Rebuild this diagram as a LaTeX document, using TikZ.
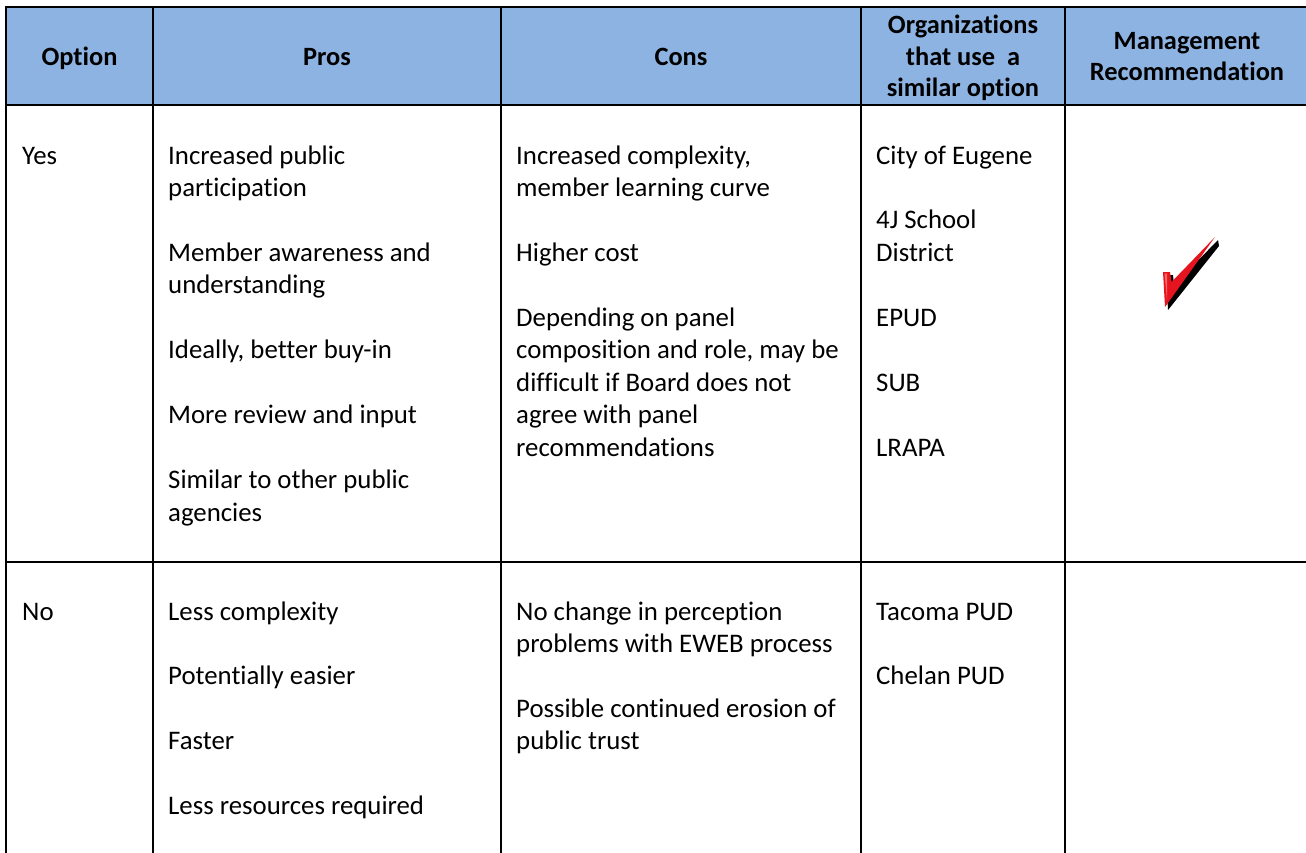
\documentclass[tikz,border=0pt]{standalone}
\usepackage{fontspec}
\setmainfont[Ligatures=NoCommon]{Carlito}
\definecolor{hdrblue}{RGB}{141,179,226}
\definecolor{chkred}{RGB}{230,20,30}
\newcommand\tl[4]{\node[txt] (#1) at (#2,#3) {#4};}
\newcommand\hl[4]{\node[hdtxt] (#1) at (#2,#3) {#4};}
\begin{document}
\begin{tikzpicture}[x=1pt,y=-1pt,
  rule/.style={line width=2.2pt,line cap=rect},
  txt/.style={font=\fontsize{26.8}{31}\selectfont,inner sep=0pt,anchor=base west},
  hdtxt/.style={font=\fontsize{26.4}{31}\selectfont\bfseries,inner sep=0pt,anchor=base}]
\useasboundingbox (0,0) rectangle (1306,852);
% header background
\fill[hdrblue] (6,7) rectangle (1310,105);
% rules
\draw[rule] (6,7) -- (1310,7);
\draw[rule] (6,105) -- (1310,105);
\draw[rule] (6,562) -- (1310,562);
\foreach \xx in {6,153,501,861,1065} {\draw[rule] (\xx,7) -- (\xx,860);}
% header
\hl{hopt}{79.5}{65}{Option}
\hl{hpros}{327}{65}{Pros}
\hl{hcons}{681}{65}{Cons}
\hl{horga}{963}{33.3}{Organizations}
\hl{horgb}{963}{65}{that use \ a}
\hl{horgc}{963}{96.7}{similar option}
\hl{hmgta}{1187}{49.3}{Management}
\hl{hmgtb}{1187}{80.5}{Recommendation}
% row 1 (baselines 164 + 32.45k)
\tl{yes}{22}{164}{Yes}
\tl{p1a}{168}{164}{Increased public}
\tl{p1b}{168}{196.5}{participation}
\tl{p1c}{168}{261.4}{Member awareness and}
\tl{p1d}{168}{293.8}{understanding}
\tl{p1e}{168}{358.7}{Ideally, better buy-in}
\tl{p1f}{168}{423.6}{More review and input}
\tl{p1g}{168}{488.5}{Similar to other public}
\tl{p1h}{168}{521}{agencies}
\tl{c1a}{516}{164}{Increased complexity,}
\tl{c1b}{516}{196.5}{member learning curve}
\tl{c1c}{516}{261.4}{Higher cost}
\tl{c1d}{516}{326.3}{Depending on panel}
\tl{c1e}{516}{358.7}{composition and role, may be}
\tl{c1f}{516}{391.2}{difficult if Board does not}
\tl{c1g}{516}{423.6}{agree with panel}
\tl{c1h}{516}{456.1}{recommendations}
\tl{o1a}{876}{164}{City of Eugene}
\tl{o1b}{876}{228.9}{4J School}
\tl{o1c}{876}{261.4}{District}
\tl{o1d}{876}{326.3}{EPUD}
\tl{o1e}{876}{391.2}{SUB}
\tl{o1f}{876}{456.1}{LRAPA}
% check mark
\fill[black] (1166,275) -- (1173,275) -- (1174,285) -- (1218,240) -- (1219,246) -- (1168,310) -- cycle;
\fill[chkred] (1163,272) -- (1170,272) -- (1171.5,282) -- (1215,237) -- (1165,307) -- cycle;
\fill[red!60!white] (1164.5,273.5) -- (1167,273.5) -- (1167,300) -- cycle;
% row 2 (baselines 620 + 32.45k)
\tl{no}{22}{620}{No}
\tl{p2a}{168}{620}{Less complexity}
\tl{p2b}{168}{684.9}{Potentially easier}
\tl{p2c}{168}{749.8}{Faster}
\tl{p2d}{168}{814.7}{Less resources required}
\tl{c2a}{516}{620}{No change in perception}
\tl{c2b}{516}{652.5}{problems with EWEB process}
\tl{c2c}{516}{717.4}{Possible continued erosion of}
\tl{c2d}{516}{749.8}{public trust}
\tl{o2a}{876}{620}{Tacoma PUD}
\tl{o2b}{876}{684.9}{Chelan PUD}
\end{tikzpicture}
\end{document}
